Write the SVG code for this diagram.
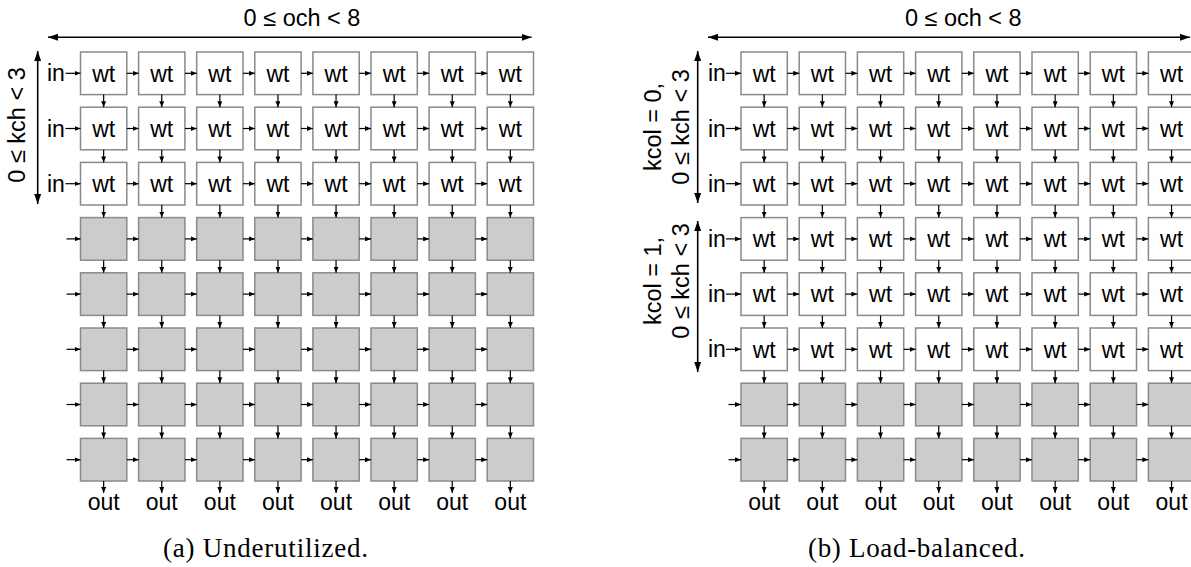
<svg xmlns="http://www.w3.org/2000/svg" width="1191" height="567" viewBox="0 0 1191 567">
<style>
.n rect{stroke:#8a8a8a;stroke-width:1.5}
.wt rect{fill:#fff}
.pe rect{fill:#cccccc}
.n text,.lbl{font-family:"Liberation Sans",Arial,sans-serif;font-size:23px;fill:#000}
.n text,.mid{text-anchor:middle}
.axis{font-family:"Liberation Sans",Arial,sans-serif;font-size:23.5px;fill:#000;text-anchor:middle}
.cap{font-family:"Liberation Serif","Times New Roman",serif;font-size:27px;fill:#000}
.c path{fill:none;stroke:#000;stroke-width:1.2;marker-end:url(#ah)}
.dim{fill:none;stroke:#000;stroke-width:1.6;marker-start:url(#big);marker-end:url(#big)}
</style>
<defs>
<marker id="ah" viewBox="0 0 6 5" refX="6" refY="2.5" markerWidth="6" markerHeight="5" orient="auto" markerUnits="userSpaceOnUse"><path d="M0,0L6,2.5L0,5z" fill="#000"/></marker>
<marker id="big" viewBox="0 0 10 7" refX="10" refY="3.5" markerWidth="10" markerHeight="7" orient="auto-start-reverse" markerUnits="userSpaceOnUse"><path d="M0,0L10,3.5L0,7z" fill="#000"/></marker>
</defs>
<rect width="1191" height="567" fill="#fff"/>

<!-- (a) dimension arrows and labels -->
<g id="a-dims">
<path class="dim" d="M48 37.3H531.5"/>
<path class="dim" d="M37.7 51V204"/>
<text class="axis" x="302" y="26">0 ≤ och &lt; 8</text>
<text class="axis" transform="translate(25 125) rotate(-90)">0 ≤ kch &lt; 3</text>
<text class="lbl" x="47" y="81.3">in</text>
<text class="lbl" x="47" y="136.5">in</text>
<text class="lbl" x="47" y="191.7">in</text>
</g>

<!-- (a) nodes: 3 weight rows, 5 idle rows -->
<g id="a-r1c1" class="n wt" transform="translate(80.5 52)"><rect width="46.3" height="42.6"/><text x="23.15" y="29.5">wt</text></g>
<g id="a-r1c2" class="n wt" transform="translate(138.6 52)"><rect width="46.3" height="42.6"/><text x="23.15" y="29.5">wt</text></g>
<g id="a-r1c3" class="n wt" transform="translate(196.7 52)"><rect width="46.3" height="42.6"/><text x="23.15" y="29.5">wt</text></g>
<g id="a-r1c4" class="n wt" transform="translate(254.8 52)"><rect width="46.3" height="42.6"/><text x="23.15" y="29.5">wt</text></g>
<g id="a-r1c5" class="n wt" transform="translate(312.9 52)"><rect width="46.3" height="42.6"/><text x="23.15" y="29.5">wt</text></g>
<g id="a-r1c6" class="n wt" transform="translate(371 52)"><rect width="46.3" height="42.6"/><text x="23.15" y="29.5">wt</text></g>
<g id="a-r1c7" class="n wt" transform="translate(429.1 52)"><rect width="46.3" height="42.6"/><text x="23.15" y="29.5">wt</text></g>
<g id="a-r1c8" class="n wt" transform="translate(487.2 52)"><rect width="46.3" height="42.6"/><text x="23.15" y="29.5">wt</text></g>
<g id="a-r2c1" class="n wt" transform="translate(80.5 107.2)"><rect width="46.3" height="42.6"/><text x="23.15" y="29.5">wt</text></g>
<g id="a-r2c2" class="n wt" transform="translate(138.6 107.2)"><rect width="46.3" height="42.6"/><text x="23.15" y="29.5">wt</text></g>
<g id="a-r2c3" class="n wt" transform="translate(196.7 107.2)"><rect width="46.3" height="42.6"/><text x="23.15" y="29.5">wt</text></g>
<g id="a-r2c4" class="n wt" transform="translate(254.8 107.2)"><rect width="46.3" height="42.6"/><text x="23.15" y="29.5">wt</text></g>
<g id="a-r2c5" class="n wt" transform="translate(312.9 107.2)"><rect width="46.3" height="42.6"/><text x="23.15" y="29.5">wt</text></g>
<g id="a-r2c6" class="n wt" transform="translate(371 107.2)"><rect width="46.3" height="42.6"/><text x="23.15" y="29.5">wt</text></g>
<g id="a-r2c7" class="n wt" transform="translate(429.1 107.2)"><rect width="46.3" height="42.6"/><text x="23.15" y="29.5">wt</text></g>
<g id="a-r2c8" class="n wt" transform="translate(487.2 107.2)"><rect width="46.3" height="42.6"/><text x="23.15" y="29.5">wt</text></g>
<g id="a-r3c1" class="n wt" transform="translate(80.5 162.4)"><rect width="46.3" height="42.6"/><text x="23.15" y="29.5">wt</text></g>
<g id="a-r3c2" class="n wt" transform="translate(138.6 162.4)"><rect width="46.3" height="42.6"/><text x="23.15" y="29.5">wt</text></g>
<g id="a-r3c3" class="n wt" transform="translate(196.7 162.4)"><rect width="46.3" height="42.6"/><text x="23.15" y="29.5">wt</text></g>
<g id="a-r3c4" class="n wt" transform="translate(254.8 162.4)"><rect width="46.3" height="42.6"/><text x="23.15" y="29.5">wt</text></g>
<g id="a-r3c5" class="n wt" transform="translate(312.9 162.4)"><rect width="46.3" height="42.6"/><text x="23.15" y="29.5">wt</text></g>
<g id="a-r3c6" class="n wt" transform="translate(371 162.4)"><rect width="46.3" height="42.6"/><text x="23.15" y="29.5">wt</text></g>
<g id="a-r3c7" class="n wt" transform="translate(429.1 162.4)"><rect width="46.3" height="42.6"/><text x="23.15" y="29.5">wt</text></g>
<g id="a-r3c8" class="n wt" transform="translate(487.2 162.4)"><rect width="46.3" height="42.6"/><text x="23.15" y="29.5">wt</text></g>
<g id="a-r4c1" class="n pe" transform="translate(80.5 217.6)"><rect width="46.3" height="42.6"/></g>
<g id="a-r4c2" class="n pe" transform="translate(138.6 217.6)"><rect width="46.3" height="42.6"/></g>
<g id="a-r4c3" class="n pe" transform="translate(196.7 217.6)"><rect width="46.3" height="42.6"/></g>
<g id="a-r4c4" class="n pe" transform="translate(254.8 217.6)"><rect width="46.3" height="42.6"/></g>
<g id="a-r4c5" class="n pe" transform="translate(312.9 217.6)"><rect width="46.3" height="42.6"/></g>
<g id="a-r4c6" class="n pe" transform="translate(371 217.6)"><rect width="46.3" height="42.6"/></g>
<g id="a-r4c7" class="n pe" transform="translate(429.1 217.6)"><rect width="46.3" height="42.6"/></g>
<g id="a-r4c8" class="n pe" transform="translate(487.2 217.6)"><rect width="46.3" height="42.6"/></g>
<g id="a-r5c1" class="n pe" transform="translate(80.5 272.8)"><rect width="46.3" height="42.6"/></g>
<g id="a-r5c2" class="n pe" transform="translate(138.6 272.8)"><rect width="46.3" height="42.6"/></g>
<g id="a-r5c3" class="n pe" transform="translate(196.7 272.8)"><rect width="46.3" height="42.6"/></g>
<g id="a-r5c4" class="n pe" transform="translate(254.8 272.8)"><rect width="46.3" height="42.6"/></g>
<g id="a-r5c5" class="n pe" transform="translate(312.9 272.8)"><rect width="46.3" height="42.6"/></g>
<g id="a-r5c6" class="n pe" transform="translate(371 272.8)"><rect width="46.3" height="42.6"/></g>
<g id="a-r5c7" class="n pe" transform="translate(429.1 272.8)"><rect width="46.3" height="42.6"/></g>
<g id="a-r5c8" class="n pe" transform="translate(487.2 272.8)"><rect width="46.3" height="42.6"/></g>
<g id="a-r6c1" class="n pe" transform="translate(80.5 328)"><rect width="46.3" height="42.6"/></g>
<g id="a-r6c2" class="n pe" transform="translate(138.6 328)"><rect width="46.3" height="42.6"/></g>
<g id="a-r6c3" class="n pe" transform="translate(196.7 328)"><rect width="46.3" height="42.6"/></g>
<g id="a-r6c4" class="n pe" transform="translate(254.8 328)"><rect width="46.3" height="42.6"/></g>
<g id="a-r6c5" class="n pe" transform="translate(312.9 328)"><rect width="46.3" height="42.6"/></g>
<g id="a-r6c6" class="n pe" transform="translate(371 328)"><rect width="46.3" height="42.6"/></g>
<g id="a-r6c7" class="n pe" transform="translate(429.1 328)"><rect width="46.3" height="42.6"/></g>
<g id="a-r6c8" class="n pe" transform="translate(487.2 328)"><rect width="46.3" height="42.6"/></g>
<g id="a-r7c1" class="n pe" transform="translate(80.5 383.2)"><rect width="46.3" height="42.6"/></g>
<g id="a-r7c2" class="n pe" transform="translate(138.6 383.2)"><rect width="46.3" height="42.6"/></g>
<g id="a-r7c3" class="n pe" transform="translate(196.7 383.2)"><rect width="46.3" height="42.6"/></g>
<g id="a-r7c4" class="n pe" transform="translate(254.8 383.2)"><rect width="46.3" height="42.6"/></g>
<g id="a-r7c5" class="n pe" transform="translate(312.9 383.2)"><rect width="46.3" height="42.6"/></g>
<g id="a-r7c6" class="n pe" transform="translate(371 383.2)"><rect width="46.3" height="42.6"/></g>
<g id="a-r7c7" class="n pe" transform="translate(429.1 383.2)"><rect width="46.3" height="42.6"/></g>
<g id="a-r7c8" class="n pe" transform="translate(487.2 383.2)"><rect width="46.3" height="42.6"/></g>
<g id="a-r8c1" class="n pe" transform="translate(80.5 438.4)"><rect width="46.3" height="42.6"/></g>
<g id="a-r8c2" class="n pe" transform="translate(138.6 438.4)"><rect width="46.3" height="42.6"/></g>
<g id="a-r8c3" class="n pe" transform="translate(196.7 438.4)"><rect width="46.3" height="42.6"/></g>
<g id="a-r8c4" class="n pe" transform="translate(254.8 438.4)"><rect width="46.3" height="42.6"/></g>
<g id="a-r8c5" class="n pe" transform="translate(312.9 438.4)"><rect width="46.3" height="42.6"/></g>
<g id="a-r8c6" class="n pe" transform="translate(371 438.4)"><rect width="46.3" height="42.6"/></g>
<g id="a-r8c7" class="n pe" transform="translate(429.1 438.4)"><rect width="46.3" height="42.6"/></g>
<g id="a-r8c8" class="n pe" transform="translate(487.2 438.4)"><rect width="46.3" height="42.6"/></g>

<!-- (a) outputs and caption -->
<g id="a-out">
<text class="lbl mid" x="103.65" y="510">out</text>
<text class="lbl mid" x="161.75" y="510">out</text>
<text class="lbl mid" x="219.85" y="510">out</text>
<text class="lbl mid" x="277.95" y="510">out</text>
<text class="lbl mid" x="336.05" y="510">out</text>
<text class="lbl mid" x="394.15" y="510">out</text>
<text class="lbl mid" x="452.25" y="510">out</text>
<text class="lbl mid" x="510.35" y="510">out</text>
</g>
<text class="cap" x="163" y="557" textLength="205" lengthAdjust="spacing">(a) Underutilized.</text>

<!-- (b) dimension arrows and labels -->
<g id="b-dims">
<path class="dim" d="M708 37.3H1190"/>
<path class="dim" d="M697.7 51V203"/>
<path class="dim" d="M697.7 221V372"/>
<text class="axis" x="963.3" y="26">0 ≤ och &lt; 8</text>
<text class="axis" transform="translate(661 127) rotate(-90)">kcol = 0,</text>
<text class="axis" transform="translate(689 127) rotate(-90)">0 ≤ kch &lt; 3</text>
<text class="axis" transform="translate(661 281) rotate(-90)">kcol = 1,</text>
<text class="axis" transform="translate(689 281) rotate(-90)">0 ≤ kch &lt; 3</text>
<text class="lbl" x="708" y="81.3">in</text>
<text class="lbl" x="708" y="136.5">in</text>
<text class="lbl" x="708" y="191.7">in</text>
<text class="lbl" x="708" y="246.9">in</text>
<text class="lbl" x="708" y="302.1">in</text>
<text class="lbl" x="708" y="357.3">in</text>
</g>

<!-- (b) nodes: 6 weight rows (two kcol halves), 2 idle rows -->
<g id="b-r1c1" class="n wt" transform="translate(741 52)"><rect width="46.3" height="42.6"/><text x="23.15" y="29.5">wt</text></g>
<g id="b-r1c2" class="n wt" transform="translate(799.2 52)"><rect width="46.3" height="42.6"/><text x="23.15" y="29.5">wt</text></g>
<g id="b-r1c3" class="n wt" transform="translate(857.4 52)"><rect width="46.3" height="42.6"/><text x="23.15" y="29.5">wt</text></g>
<g id="b-r1c4" class="n wt" transform="translate(915.6 52)"><rect width="46.3" height="42.6"/><text x="23.15" y="29.5">wt</text></g>
<g id="b-r1c5" class="n wt" transform="translate(973.8 52)"><rect width="46.3" height="42.6"/><text x="23.15" y="29.5">wt</text></g>
<g id="b-r1c6" class="n wt" transform="translate(1032 52)"><rect width="46.3" height="42.6"/><text x="23.15" y="29.5">wt</text></g>
<g id="b-r1c7" class="n wt" transform="translate(1090.2 52)"><rect width="46.3" height="42.6"/><text x="23.15" y="29.5">wt</text></g>
<g id="b-r1c8" class="n wt" transform="translate(1148.4 52)"><rect width="46.3" height="42.6"/><text x="23.15" y="29.5">wt</text></g>
<g id="b-r2c1" class="n wt" transform="translate(741 107.2)"><rect width="46.3" height="42.6"/><text x="23.15" y="29.5">wt</text></g>
<g id="b-r2c2" class="n wt" transform="translate(799.2 107.2)"><rect width="46.3" height="42.6"/><text x="23.15" y="29.5">wt</text></g>
<g id="b-r2c3" class="n wt" transform="translate(857.4 107.2)"><rect width="46.3" height="42.6"/><text x="23.15" y="29.5">wt</text></g>
<g id="b-r2c4" class="n wt" transform="translate(915.6 107.2)"><rect width="46.3" height="42.6"/><text x="23.15" y="29.5">wt</text></g>
<g id="b-r2c5" class="n wt" transform="translate(973.8 107.2)"><rect width="46.3" height="42.6"/><text x="23.15" y="29.5">wt</text></g>
<g id="b-r2c6" class="n wt" transform="translate(1032 107.2)"><rect width="46.3" height="42.6"/><text x="23.15" y="29.5">wt</text></g>
<g id="b-r2c7" class="n wt" transform="translate(1090.2 107.2)"><rect width="46.3" height="42.6"/><text x="23.15" y="29.5">wt</text></g>
<g id="b-r2c8" class="n wt" transform="translate(1148.4 107.2)"><rect width="46.3" height="42.6"/><text x="23.15" y="29.5">wt</text></g>
<g id="b-r3c1" class="n wt" transform="translate(741 162.4)"><rect width="46.3" height="42.6"/><text x="23.15" y="29.5">wt</text></g>
<g id="b-r3c2" class="n wt" transform="translate(799.2 162.4)"><rect width="46.3" height="42.6"/><text x="23.15" y="29.5">wt</text></g>
<g id="b-r3c3" class="n wt" transform="translate(857.4 162.4)"><rect width="46.3" height="42.6"/><text x="23.15" y="29.5">wt</text></g>
<g id="b-r3c4" class="n wt" transform="translate(915.6 162.4)"><rect width="46.3" height="42.6"/><text x="23.15" y="29.5">wt</text></g>
<g id="b-r3c5" class="n wt" transform="translate(973.8 162.4)"><rect width="46.3" height="42.6"/><text x="23.15" y="29.5">wt</text></g>
<g id="b-r3c6" class="n wt" transform="translate(1032 162.4)"><rect width="46.3" height="42.6"/><text x="23.15" y="29.5">wt</text></g>
<g id="b-r3c7" class="n wt" transform="translate(1090.2 162.4)"><rect width="46.3" height="42.6"/><text x="23.15" y="29.5">wt</text></g>
<g id="b-r3c8" class="n wt" transform="translate(1148.4 162.4)"><rect width="46.3" height="42.6"/><text x="23.15" y="29.5">wt</text></g>
<g id="b-r4c1" class="n wt" transform="translate(741 217.6)"><rect width="46.3" height="42.6"/><text x="23.15" y="29.5">wt</text></g>
<g id="b-r4c2" class="n wt" transform="translate(799.2 217.6)"><rect width="46.3" height="42.6"/><text x="23.15" y="29.5">wt</text></g>
<g id="b-r4c3" class="n wt" transform="translate(857.4 217.6)"><rect width="46.3" height="42.6"/><text x="23.15" y="29.5">wt</text></g>
<g id="b-r4c4" class="n wt" transform="translate(915.6 217.6)"><rect width="46.3" height="42.6"/><text x="23.15" y="29.5">wt</text></g>
<g id="b-r4c5" class="n wt" transform="translate(973.8 217.6)"><rect width="46.3" height="42.6"/><text x="23.15" y="29.5">wt</text></g>
<g id="b-r4c6" class="n wt" transform="translate(1032 217.6)"><rect width="46.3" height="42.6"/><text x="23.15" y="29.5">wt</text></g>
<g id="b-r4c7" class="n wt" transform="translate(1090.2 217.6)"><rect width="46.3" height="42.6"/><text x="23.15" y="29.5">wt</text></g>
<g id="b-r4c8" class="n wt" transform="translate(1148.4 217.6)"><rect width="46.3" height="42.6"/><text x="23.15" y="29.5">wt</text></g>
<g id="b-r5c1" class="n wt" transform="translate(741 272.8)"><rect width="46.3" height="42.6"/><text x="23.15" y="29.5">wt</text></g>
<g id="b-r5c2" class="n wt" transform="translate(799.2 272.8)"><rect width="46.3" height="42.6"/><text x="23.15" y="29.5">wt</text></g>
<g id="b-r5c3" class="n wt" transform="translate(857.4 272.8)"><rect width="46.3" height="42.6"/><text x="23.15" y="29.5">wt</text></g>
<g id="b-r5c4" class="n wt" transform="translate(915.6 272.8)"><rect width="46.3" height="42.6"/><text x="23.15" y="29.5">wt</text></g>
<g id="b-r5c5" class="n wt" transform="translate(973.8 272.8)"><rect width="46.3" height="42.6"/><text x="23.15" y="29.5">wt</text></g>
<g id="b-r5c6" class="n wt" transform="translate(1032 272.8)"><rect width="46.3" height="42.6"/><text x="23.15" y="29.5">wt</text></g>
<g id="b-r5c7" class="n wt" transform="translate(1090.2 272.8)"><rect width="46.3" height="42.6"/><text x="23.15" y="29.5">wt</text></g>
<g id="b-r5c8" class="n wt" transform="translate(1148.4 272.8)"><rect width="46.3" height="42.6"/><text x="23.15" y="29.5">wt</text></g>
<g id="b-r6c1" class="n wt" transform="translate(741 328)"><rect width="46.3" height="42.6"/><text x="23.15" y="29.5">wt</text></g>
<g id="b-r6c2" class="n wt" transform="translate(799.2 328)"><rect width="46.3" height="42.6"/><text x="23.15" y="29.5">wt</text></g>
<g id="b-r6c3" class="n wt" transform="translate(857.4 328)"><rect width="46.3" height="42.6"/><text x="23.15" y="29.5">wt</text></g>
<g id="b-r6c4" class="n wt" transform="translate(915.6 328)"><rect width="46.3" height="42.6"/><text x="23.15" y="29.5">wt</text></g>
<g id="b-r6c5" class="n wt" transform="translate(973.8 328)"><rect width="46.3" height="42.6"/><text x="23.15" y="29.5">wt</text></g>
<g id="b-r6c6" class="n wt" transform="translate(1032 328)"><rect width="46.3" height="42.6"/><text x="23.15" y="29.5">wt</text></g>
<g id="b-r6c7" class="n wt" transform="translate(1090.2 328)"><rect width="46.3" height="42.6"/><text x="23.15" y="29.5">wt</text></g>
<g id="b-r6c8" class="n wt" transform="translate(1148.4 328)"><rect width="46.3" height="42.6"/><text x="23.15" y="29.5">wt</text></g>
<g id="b-r7c1" class="n pe" transform="translate(741 383.2)"><rect width="46.3" height="42.6"/></g>
<g id="b-r7c2" class="n pe" transform="translate(799.2 383.2)"><rect width="46.3" height="42.6"/></g>
<g id="b-r7c3" class="n pe" transform="translate(857.4 383.2)"><rect width="46.3" height="42.6"/></g>
<g id="b-r7c4" class="n pe" transform="translate(915.6 383.2)"><rect width="46.3" height="42.6"/></g>
<g id="b-r7c5" class="n pe" transform="translate(973.8 383.2)"><rect width="46.3" height="42.6"/></g>
<g id="b-r7c6" class="n pe" transform="translate(1032 383.2)"><rect width="46.3" height="42.6"/></g>
<g id="b-r7c7" class="n pe" transform="translate(1090.2 383.2)"><rect width="46.3" height="42.6"/></g>
<g id="b-r7c8" class="n pe" transform="translate(1148.4 383.2)"><rect width="46.3" height="42.6"/></g>
<g id="b-r8c1" class="n pe" transform="translate(741 438.4)"><rect width="46.3" height="42.6"/></g>
<g id="b-r8c2" class="n pe" transform="translate(799.2 438.4)"><rect width="46.3" height="42.6"/></g>
<g id="b-r8c3" class="n pe" transform="translate(857.4 438.4)"><rect width="46.3" height="42.6"/></g>
<g id="b-r8c4" class="n pe" transform="translate(915.6 438.4)"><rect width="46.3" height="42.6"/></g>
<g id="b-r8c5" class="n pe" transform="translate(973.8 438.4)"><rect width="46.3" height="42.6"/></g>
<g id="b-r8c6" class="n pe" transform="translate(1032 438.4)"><rect width="46.3" height="42.6"/></g>
<g id="b-r8c7" class="n pe" transform="translate(1090.2 438.4)"><rect width="46.3" height="42.6"/></g>
<g id="b-r8c8" class="n pe" transform="translate(1148.4 438.4)"><rect width="46.3" height="42.6"/></g>

<!-- (b) outputs and caption -->
<g id="b-out">
<text class="lbl mid" x="764.15" y="510">out</text>
<text class="lbl mid" x="822.35" y="510">out</text>
<text class="lbl mid" x="880.55" y="510">out</text>
<text class="lbl mid" x="938.75" y="510">out</text>
<text class="lbl mid" x="996.95" y="510">out</text>
<text class="lbl mid" x="1055.15" y="510">out</text>
<text class="lbl mid" x="1113.35" y="510">out</text>
<text class="lbl mid" x="1171.55" y="510">out</text>
</g>
<text class="cap" x="808" y="557" textLength="217" lengthAdjust="spacing">(b) Load-balanced.</text>

<!-- connectors: row-wise (left to right) and column-wise (top to bottom) links -->
<g id="connectors" class="c">
<!-- (a) horizontal -->
<path d="M65.5 73.3H80.5"/><path d="M126.8 73.3H138.6"/><path d="M184.9 73.3H196.7"/><path d="M243 73.3H254.8"/><path d="M301.1 73.3H312.9"/><path d="M359.2 73.3H371"/><path d="M417.3 73.3H429.1"/><path d="M475.4 73.3H487.2"/>
<path d="M65.5 128.5H80.5"/><path d="M126.8 128.5H138.6"/><path d="M184.9 128.5H196.7"/><path d="M243 128.5H254.8"/><path d="M301.1 128.5H312.9"/><path d="M359.2 128.5H371"/><path d="M417.3 128.5H429.1"/><path d="M475.4 128.5H487.2"/>
<path d="M65.5 183.7H80.5"/><path d="M126.8 183.7H138.6"/><path d="M184.9 183.7H196.7"/><path d="M243 183.7H254.8"/><path d="M301.1 183.7H312.9"/><path d="M359.2 183.7H371"/><path d="M417.3 183.7H429.1"/><path d="M475.4 183.7H487.2"/>
<path d="M66.5 238.9H80.5"/><path d="M126.8 238.9H138.6"/><path d="M184.9 238.9H196.7"/><path d="M243 238.9H254.8"/><path d="M301.1 238.9H312.9"/><path d="M359.2 238.9H371"/><path d="M417.3 238.9H429.1"/><path d="M475.4 238.9H487.2"/>
<path d="M66.5 294.1H80.5"/><path d="M126.8 294.1H138.6"/><path d="M184.9 294.1H196.7"/><path d="M243 294.1H254.8"/><path d="M301.1 294.1H312.9"/><path d="M359.2 294.1H371"/><path d="M417.3 294.1H429.1"/><path d="M475.4 294.1H487.2"/>
<path d="M66.5 349.3H80.5"/><path d="M126.8 349.3H138.6"/><path d="M184.9 349.3H196.7"/><path d="M243 349.3H254.8"/><path d="M301.1 349.3H312.9"/><path d="M359.2 349.3H371"/><path d="M417.3 349.3H429.1"/><path d="M475.4 349.3H487.2"/>
<path d="M66.5 404.5H80.5"/><path d="M126.8 404.5H138.6"/><path d="M184.9 404.5H196.7"/><path d="M243 404.5H254.8"/><path d="M301.1 404.5H312.9"/><path d="M359.2 404.5H371"/><path d="M417.3 404.5H429.1"/><path d="M475.4 404.5H487.2"/>
<path d="M66.5 459.7H80.5"/><path d="M126.8 459.7H138.6"/><path d="M184.9 459.7H196.7"/><path d="M243 459.7H254.8"/><path d="M301.1 459.7H312.9"/><path d="M359.2 459.7H371"/><path d="M417.3 459.7H429.1"/><path d="M475.4 459.7H487.2"/>
<!-- (a) vertical -->
<path d="M103.65 94.6V107.2"/><path d="M103.65 149.8V162.4"/><path d="M103.65 205V217.6"/><path d="M103.65 260.2V272.8"/><path d="M103.65 315.4V328"/><path d="M103.65 370.6V383.2"/><path d="M103.65 425.8V438.4"/><path d="M103.65 481V493"/>
<path d="M161.75 94.6V107.2"/><path d="M161.75 149.8V162.4"/><path d="M161.75 205V217.6"/><path d="M161.75 260.2V272.8"/><path d="M161.75 315.4V328"/><path d="M161.75 370.6V383.2"/><path d="M161.75 425.8V438.4"/><path d="M161.75 481V493"/>
<path d="M219.85 94.6V107.2"/><path d="M219.85 149.8V162.4"/><path d="M219.85 205V217.6"/><path d="M219.85 260.2V272.8"/><path d="M219.85 315.4V328"/><path d="M219.85 370.6V383.2"/><path d="M219.85 425.8V438.4"/><path d="M219.85 481V493"/>
<path d="M277.95 94.6V107.2"/><path d="M277.95 149.8V162.4"/><path d="M277.95 205V217.6"/><path d="M277.95 260.2V272.8"/><path d="M277.95 315.4V328"/><path d="M277.95 370.6V383.2"/><path d="M277.95 425.8V438.4"/><path d="M277.95 481V493"/>
<path d="M336.05 94.6V107.2"/><path d="M336.05 149.8V162.4"/><path d="M336.05 205V217.6"/><path d="M336.05 260.2V272.8"/><path d="M336.05 315.4V328"/><path d="M336.05 370.6V383.2"/><path d="M336.05 425.8V438.4"/><path d="M336.05 481V493"/>
<path d="M394.15 94.6V107.2"/><path d="M394.15 149.8V162.4"/><path d="M394.15 205V217.6"/><path d="M394.15 260.2V272.8"/><path d="M394.15 315.4V328"/><path d="M394.15 370.6V383.2"/><path d="M394.15 425.8V438.4"/><path d="M394.15 481V493"/>
<path d="M452.25 94.6V107.2"/><path d="M452.25 149.8V162.4"/><path d="M452.25 205V217.6"/><path d="M452.25 260.2V272.8"/><path d="M452.25 315.4V328"/><path d="M452.25 370.6V383.2"/><path d="M452.25 425.8V438.4"/><path d="M452.25 481V493"/>
<path d="M510.35 94.6V107.2"/><path d="M510.35 149.8V162.4"/><path d="M510.35 205V217.6"/><path d="M510.35 260.2V272.8"/><path d="M510.35 315.4V328"/><path d="M510.35 370.6V383.2"/><path d="M510.35 425.8V438.4"/><path d="M510.35 481V493"/>
<!-- (b) horizontal -->
<path d="M726 73.3H741"/><path d="M787.3 73.3H799.2"/><path d="M845.5 73.3H857.4"/><path d="M903.7 73.3H915.6"/><path d="M961.9 73.3H973.8"/><path d="M1020.1 73.3H1032"/><path d="M1078.3 73.3H1090.2"/><path d="M1136.5 73.3H1148.4"/>
<path d="M726 128.5H741"/><path d="M787.3 128.5H799.2"/><path d="M845.5 128.5H857.4"/><path d="M903.7 128.5H915.6"/><path d="M961.9 128.5H973.8"/><path d="M1020.1 128.5H1032"/><path d="M1078.3 128.5H1090.2"/><path d="M1136.5 128.5H1148.4"/>
<path d="M726 183.7H741"/><path d="M787.3 183.7H799.2"/><path d="M845.5 183.7H857.4"/><path d="M903.7 183.7H915.6"/><path d="M961.9 183.7H973.8"/><path d="M1020.1 183.7H1032"/><path d="M1078.3 183.7H1090.2"/><path d="M1136.5 183.7H1148.4"/>
<path d="M726 238.9H741"/><path d="M787.3 238.9H799.2"/><path d="M845.5 238.9H857.4"/><path d="M903.7 238.9H915.6"/><path d="M961.9 238.9H973.8"/><path d="M1020.1 238.9H1032"/><path d="M1078.3 238.9H1090.2"/><path d="M1136.5 238.9H1148.4"/>
<path d="M726 294.1H741"/><path d="M787.3 294.1H799.2"/><path d="M845.5 294.1H857.4"/><path d="M903.7 294.1H915.6"/><path d="M961.9 294.1H973.8"/><path d="M1020.1 294.1H1032"/><path d="M1078.3 294.1H1090.2"/><path d="M1136.5 294.1H1148.4"/>
<path d="M726 349.3H741"/><path d="M787.3 349.3H799.2"/><path d="M845.5 349.3H857.4"/><path d="M903.7 349.3H915.6"/><path d="M961.9 349.3H973.8"/><path d="M1020.1 349.3H1032"/><path d="M1078.3 349.3H1090.2"/><path d="M1136.5 349.3H1148.4"/>
<path d="M728.5 404.5H741"/><path d="M787.3 404.5H799.2"/><path d="M845.5 404.5H857.4"/><path d="M903.7 404.5H915.6"/><path d="M961.9 404.5H973.8"/><path d="M1020.1 404.5H1032"/><path d="M1078.3 404.5H1090.2"/><path d="M1136.5 404.5H1148.4"/>
<path d="M728.5 459.7H741"/><path d="M787.3 459.7H799.2"/><path d="M845.5 459.7H857.4"/><path d="M903.7 459.7H915.6"/><path d="M961.9 459.7H973.8"/><path d="M1020.1 459.7H1032"/><path d="M1078.3 459.7H1090.2"/><path d="M1136.5 459.7H1148.4"/>
<!-- (b) vertical -->
<path d="M764.15 94.6V107.2"/><path d="M764.15 149.8V162.4"/><path d="M764.15 205V217.6"/><path d="M764.15 260.2V272.8"/><path d="M764.15 315.4V328"/><path d="M764.15 370.6V383.2"/><path d="M764.15 425.8V438.4"/><path d="M764.15 481V493"/>
<path d="M822.35 94.6V107.2"/><path d="M822.35 149.8V162.4"/><path d="M822.35 205V217.6"/><path d="M822.35 260.2V272.8"/><path d="M822.35 315.4V328"/><path d="M822.35 370.6V383.2"/><path d="M822.35 425.8V438.4"/><path d="M822.35 481V493"/>
<path d="M880.55 94.6V107.2"/><path d="M880.55 149.8V162.4"/><path d="M880.55 205V217.6"/><path d="M880.55 260.2V272.8"/><path d="M880.55 315.4V328"/><path d="M880.55 370.6V383.2"/><path d="M880.55 425.8V438.4"/><path d="M880.55 481V493"/>
<path d="M938.75 94.6V107.2"/><path d="M938.75 149.8V162.4"/><path d="M938.75 205V217.6"/><path d="M938.75 260.2V272.8"/><path d="M938.75 315.4V328"/><path d="M938.75 370.6V383.2"/><path d="M938.75 425.8V438.4"/><path d="M938.75 481V493"/>
<path d="M996.95 94.6V107.2"/><path d="M996.95 149.8V162.4"/><path d="M996.95 205V217.6"/><path d="M996.95 260.2V272.8"/><path d="M996.95 315.4V328"/><path d="M996.95 370.6V383.2"/><path d="M996.95 425.8V438.4"/><path d="M996.95 481V493"/>
<path d="M1055.15 94.6V107.2"/><path d="M1055.15 149.8V162.4"/><path d="M1055.15 205V217.6"/><path d="M1055.15 260.2V272.8"/><path d="M1055.15 315.4V328"/><path d="M1055.15 370.6V383.2"/><path d="M1055.15 425.8V438.4"/><path d="M1055.15 481V493"/>
<path d="M1113.35 94.6V107.2"/><path d="M1113.35 149.8V162.4"/><path d="M1113.35 205V217.6"/><path d="M1113.35 260.2V272.8"/><path d="M1113.35 315.4V328"/><path d="M1113.35 370.6V383.2"/><path d="M1113.35 425.8V438.4"/><path d="M1113.35 481V493"/>
<path d="M1171.55 94.6V107.2"/><path d="M1171.55 149.8V162.4"/><path d="M1171.55 205V217.6"/><path d="M1171.55 260.2V272.8"/><path d="M1171.55 315.4V328"/><path d="M1171.55 370.6V383.2"/><path d="M1171.55 425.8V438.4"/><path d="M1171.55 481V493"/>
</g>
</svg>
